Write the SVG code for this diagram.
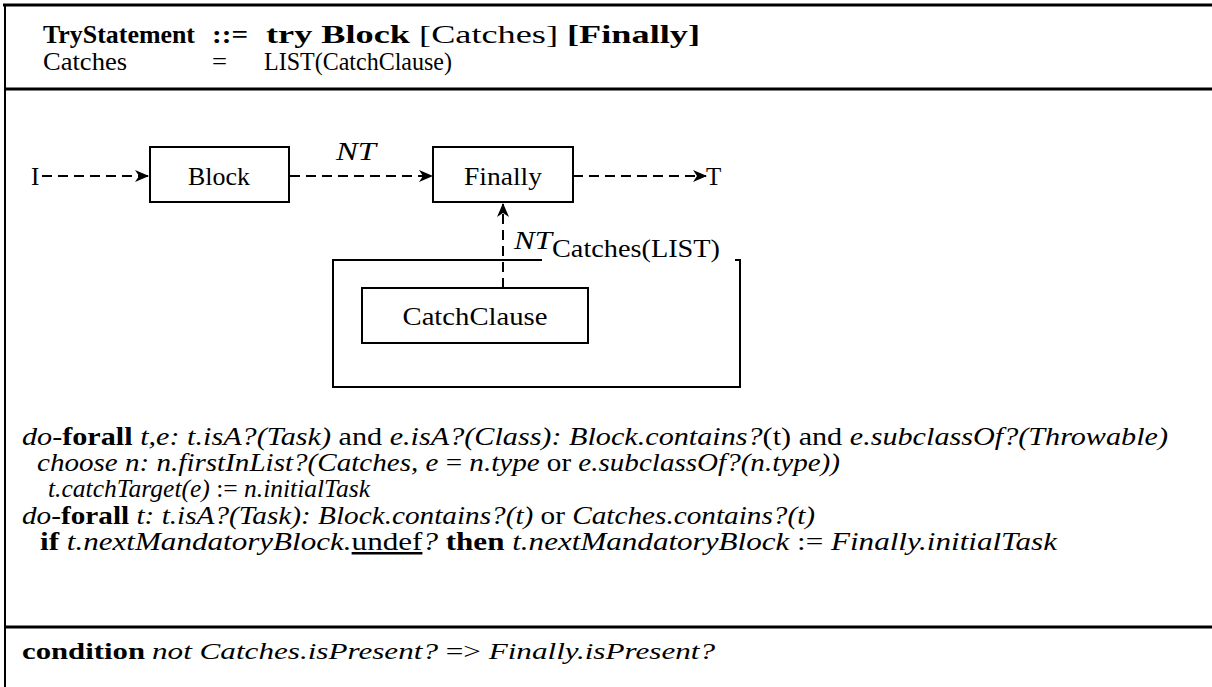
<svg xmlns="http://www.w3.org/2000/svg" width="1212" height="687" viewBox="0 0 1212 687">
  <style>
    text { font-family: "Liberation Serif", "Times New Roman", serif; font-size: 25px; fill: #000; }
    .b { font-weight: bold; }
    .i { font-style: italic; }
    .frame { stroke: #000; fill: none; }
    .box { fill: #fff; stroke: #000; stroke-width: 2; }
    .dash { stroke: #000; stroke-width: 2; fill: none; stroke-dasharray: 10 6; }
    .solid { stroke: #000; stroke-width: 2; fill: none; }
    .mid { text-anchor: middle; }
  </style>
  <defs>
    <marker id="arr" viewBox="0 0 14 12" refX="13" refY="6" markerWidth="14" markerHeight="12" markerUnits="userSpaceOnUse" orient="auto">
      <path d="M0,0 L14,6 L0,12 L4,6 z" fill="#000"/>
    </marker>
  </defs>

  <!-- outer frame and section rules -->
  <g id="frame">
    <line class="frame" x1="3" y1="5" x2="1212" y2="5" stroke-width="3"/>
    <line class="frame" x1="5" y1="4" x2="5" y2="687" stroke-width="2"/>
    <line class="frame" x1="4" y1="89" x2="1212" y2="89" stroke-width="3"/>
    <line class="frame" x1="4" y1="627" x2="1212" y2="627" stroke-width="3"/>
  </g>

  <!-- grammar header -->
  <g id="grammar">
    <text x="43" y="43" class="b" textLength="152" lengthAdjust="spacingAndGlyphs">TryStatement</text>
    <text x="212" y="43" class="b" textLength="36" lengthAdjust="spacingAndGlyphs">::=</text>
    <text x="266" y="43" textLength="434" lengthAdjust="spacingAndGlyphs"><tspan class="b">try Block </tspan>[Catches] <tspan class="b">[Finally]</tspan></text>
    <text x="43" y="70" textLength="84" lengthAdjust="spacingAndGlyphs">Catches</text>
    <text x="212" y="70" textLength="15" lengthAdjust="spacingAndGlyphs">=</text>
    <text x="264" y="70" textLength="188" lengthAdjust="spacingAndGlyphs">LIST(CatchClause)</text>
  </g>

  <!-- connectors -->
  <g id="connectors">
    <line class="dash" x1="42" y1="176" x2="148" y2="176" marker-end="url(#arr)"/>
    <line class="dash" x1="290" y1="176" x2="432" y2="176" marker-end="url(#arr)"/>
    <line class="dash" x1="573" y1="176" x2="706" y2="176" marker-end="url(#arr)"/>
    <line class="dash" x1="503" y1="288" x2="503" y2="204" marker-end="url(#arr)"/>
    <text x="336" y="160" class="i" textLength="40" lengthAdjust="spacingAndGlyphs">NT</text>
    <text x="514" y="249" class="i" textLength="38" lengthAdjust="spacingAndGlyphs">NT</text>
  </g>

  <g id="start">
    <text x="31" y="185">I</text>
  </g>
  <g id="end">
    <text x="706" y="185">T</text>
  </g>

  <g id="block">
    <rect class="box" x="150" y="147" width="139" height="55"/>
    <text x="219" y="185" class="mid" textLength="62" lengthAdjust="spacingAndGlyphs">Block</text>
  </g>

  <g id="finally">
    <rect class="box" x="433" y="147" width="140" height="55"/>
    <text x="503" y="185" class="mid" textLength="78" lengthAdjust="spacingAndGlyphs">Finally</text>
  </g>

  <g id="catches">
    <path class="solid" d="M542,260 H333 V387 H740 V260 H735"/>
    <text x="552" y="257" textLength="168" lengthAdjust="spacingAndGlyphs">Catches(LIST)</text>
  </g>

  <g id="catchclause">
    <rect class="box" x="362" y="288" width="226" height="55"/>
    <text x="475" y="325" class="mid" textLength="145" lengthAdjust="spacingAndGlyphs">CatchClause</text>
  </g>

  <!-- semantic rules -->
  <g id="rules">
    <text x="22" y="445" textLength="1146" lengthAdjust="spacingAndGlyphs"><tspan class="i">do</tspan>-<tspan class="b">forall</tspan> <tspan class="i">t,e: t.isA?(Task)</tspan> and <tspan class="i">e.isA?(Class): Block.contains?</tspan>(t) and <tspan class="i">e.subclassOf?(Throwable)</tspan></text>
    <text x="37" y="471" textLength="803" lengthAdjust="spacingAndGlyphs"><tspan class="i">choose n: n.firstInList?(Catches, e</tspan> = <tspan class="i">n.type</tspan> or <tspan class="i">e.subclassOf?(n.type))</tspan></text>
    <text x="48" y="497" textLength="322" lengthAdjust="spacingAndGlyphs"><tspan class="i">t.catchTarget(e)</tspan> := <tspan class="i">n.initialTask</tspan></text>
    <text x="22" y="524" textLength="793" lengthAdjust="spacingAndGlyphs"><tspan class="i">do</tspan>-<tspan class="b">forall</tspan> <tspan class="i">t: t.isA?(Task): Block.contains?(t)</tspan> or <tspan class="i">Catches.contains?(t)</tspan></text>
    <text x="40" y="550" textLength="1017" lengthAdjust="spacingAndGlyphs"><tspan class="b">if</tspan> <tspan class="i">t.nextMandatoryBlock.</tspan><tspan text-decoration="underline">undef</tspan><tspan class="i">?</tspan> <tspan class="b">then</tspan> <tspan class="i">t.nextMandatoryBlock</tspan> := <tspan class="i">Finally.initialTask</tspan></text>
  </g>

  <!-- side condition -->
  <g id="condition">
    <text x="22" y="659" class="b" style="font-size:24px" textLength="123" lengthAdjust="spacingAndGlyphs">condition</text>
    <text x="152" y="659" style="font-size:24px" textLength="563" lengthAdjust="spacingAndGlyphs"><tspan class="i">not Catches.isPresent?</tspan> =&gt; <tspan class="i">Finally.isPresent?</tspan></text>
  </g>
</svg>
